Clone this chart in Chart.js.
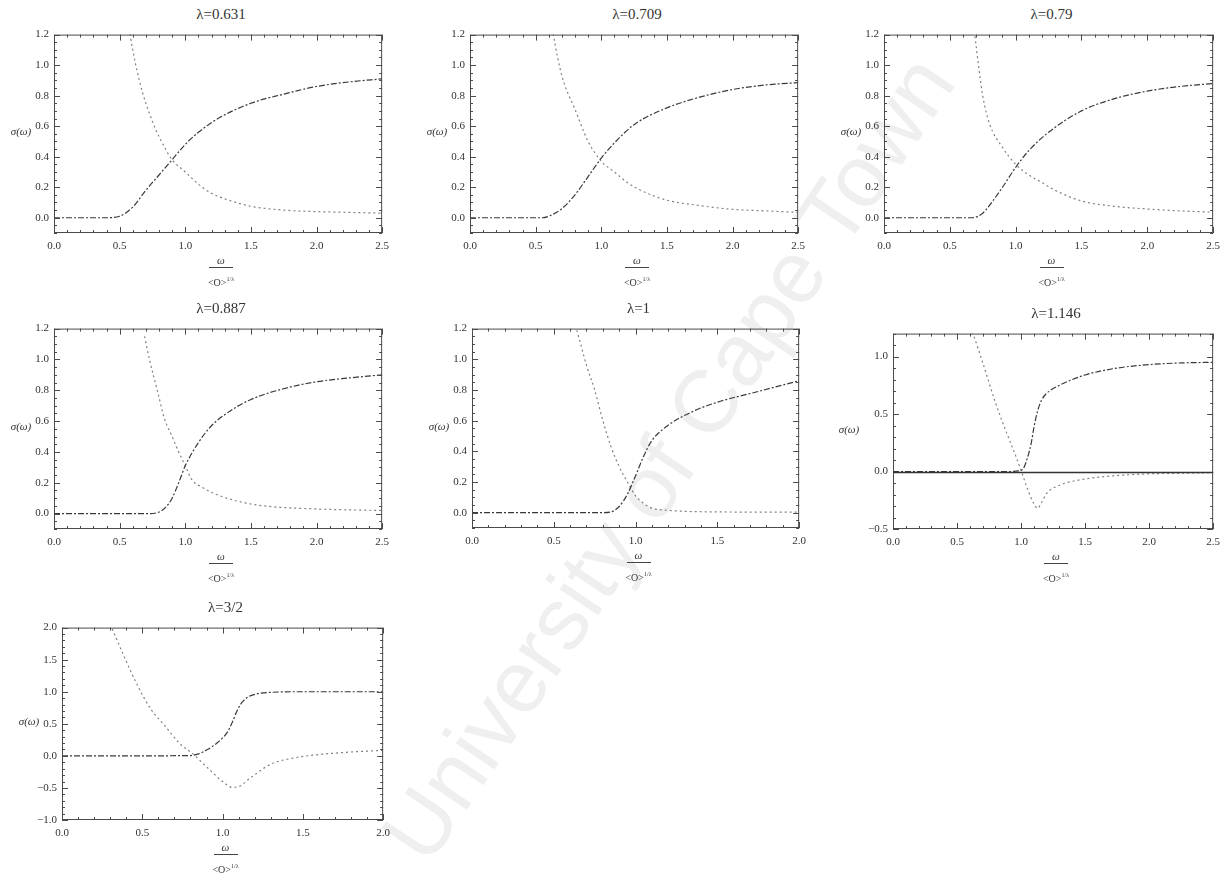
<!DOCTYPE html>
<html>
<head>
<meta charset="utf-8">
<script src="https://cdn.jsdelivr.net/npm/chart.js@4.4.1/dist/chart.umd.min.js"></script>
<style>
  body { margin: 0; background: #fff; width: 1228px; height: 888px; position: relative; overflow: hidden;
         font-family: 'Liberation Serif', serif; color: #333; }
  canvas { position: absolute; z-index: 1; }
  .title { position: absolute; font-size: 15px; transform: translate(-50%, -50%); white-space: nowrap; z-index: 2; }
  .ylab { position: absolute; font-size: 11px; font-style: italic; transform: translate(-50%, -50%); white-space: nowrap; z-index: 2; }
  .num { position: absolute; font-size: 11px; font-style: italic; transform: translate(-50%, -50%); z-index: 2; }
  .bar { position: absolute; height: 1px; width: 24px; background: #444; transform: translateX(-50%); z-index: 2; }
  .den { position: absolute; font-size: 10px; transform: translate(-50%, -50%); white-space: nowrap; z-index: 2; }
  .den sup { font-size: 6px; }
  .wm { position: absolute; left: 668px; top: 458px; font-family: 'Liberation Sans', sans-serif; font-size: 88px;
        color: #efefef; white-space: nowrap; transform: translate(-50%, -50%) rotate(-56deg); z-index: 0; }
</style>
</head>
<body>
<div class="wm">University of Cape Town</div>

<script>
// panel titles
const titles = ['λ=0.631', 'λ=0.709', 'λ=0.79', 'λ=0.887', 'λ=1', 'λ=1.146', 'λ=3/2'];

// tick labels
const xTicks25 = [0, 0.5, 1.0, 1.5, 2.0, 2.5];
const xTicks20 = [0, 0.5, 1.0, 1.5, 2.0];
const yTicks12 = [0, 0.2, 0.4, 0.6, 0.8, 1.0, 1.2];
const yTicksNeg05 = [-0.5, 0, 0.5, 1.0];
const yTicksNeg1 = [-1.0, -0.5, 0, 0.5, 1.0, 1.5, 2.0];

// λ=0.631
const omegaRe1 = [0, 0.2, 0.4, 0.5, 0.6, 0.7, 0.8, 0.9, 1.0, 1.1, 1.25, 1.5, 1.75, 2.0, 2.25, 2.5];
const re1 = [0, 0, 0, 0.01, 0.07, 0.18, 0.28, 0.38, 0.48, 0.56, 0.65, 0.75, 0.81, 0.86, 0.89, 0.91];
const omegaIm1 = [0.55, 0.58, 0.65, 0.75, 0.85, 0.9, 1.0, 1.1, 1.2, 1.35, 1.5, 1.75, 2.0, 2.25, 2.5];
const im1 = [1.4, 1.2, 0.9, 0.63, 0.45, 0.38, 0.3, 0.22, 0.16, 0.11, 0.075, 0.05, 0.04, 0.035, 0.03];

// λ=0.709
const omegaRe2 = [0, 0.2, 0.4, 0.55, 0.6, 0.7, 0.8, 0.9, 1.0, 1.1, 1.25, 1.5, 1.75, 2.0, 2.25, 2.5];
const re2 = [0, 0, 0, 0, 0.01, 0.06, 0.15, 0.27, 0.39, 0.49, 0.61, 0.72, 0.79, 0.84, 0.87, 0.885];
const omegaIm2 = [0.6, 0.635, 0.7, 0.8, 0.9, 1.0, 1.1, 1.2, 1.3, 1.5, 1.75, 2.0, 2.25, 2.5];
const im2 = [1.4, 1.2, 0.93, 0.71, 0.5, 0.37, 0.3, 0.23, 0.18, 0.115, 0.08, 0.055, 0.045, 0.035];

// λ=0.79
const omegaRe3 = [0, 0.2, 0.4, 0.6, 0.67, 0.75, 0.8, 0.9, 1.0, 1.1, 1.25, 1.5, 1.75, 2.0, 2.25, 2.5];
const re3 = [0, 0, 0, 0, 0, 0.03, 0.08, 0.2, 0.33, 0.44, 0.56, 0.7, 0.78, 0.83, 0.86, 0.88];
const omegaIm3 = [0.66, 0.69, 0.75, 0.8, 0.9, 1.0, 1.1, 1.2, 1.3, 1.5, 1.75, 2.0, 2.25, 2.5];
const im3 = [1.45, 1.2, 0.8, 0.62, 0.46, 0.35, 0.28, 0.23, 0.18, 0.11, 0.075, 0.057, 0.045, 0.036];

// λ=0.887
const omegaRe4 = [0, 0.2, 0.4, 0.6, 0.72, 0.8, 0.85, 0.9, 0.95, 1.0, 1.1, 1.2, 1.35, 1.5, 1.75, 2.0, 2.25, 2.5];
const re4 = [0, 0, 0, 0, 0, 0.01, 0.04, 0.1, 0.2, 0.31, 0.46, 0.57, 0.67, 0.74, 0.81, 0.855, 0.88, 0.9];
const omegaIm4 = [0.69, 0.73, 0.79, 0.84, 0.9, 0.95, 1.0, 1.05, 1.13, 1.25, 1.4, 1.6, 2.0, 2.5];
const im4 = [1.15, 0.99, 0.79, 0.62, 0.5, 0.4, 0.31, 0.22, 0.17, 0.12, 0.08, 0.05, 0.03, 0.02];

// λ=1
const omegaRe5 = [0, 0.2, 0.4, 0.6, 0.8, 0.85, 0.9, 0.95, 1.0, 1.05, 1.1, 1.2, 1.35, 1.5, 1.75, 2.0];
const re5 = [0, 0, 0, 0, 0, 0.005, 0.04, 0.12, 0.24, 0.37, 0.47, 0.57, 0.66, 0.72, 0.79, 0.86];
const omegaIm5 = [0.62, 0.64, 0.7, 0.75, 0.8, 0.85, 0.9, 0.95, 1.0, 1.05, 1.1, 1.2, 1.5, 2.0];
const im5 = [1.25, 1.19, 0.96, 0.8, 0.6, 0.43, 0.3, 0.2, 0.11, 0.06, 0.03, 0.015, 0.005, 0.003];

// λ=1.146
const omegaRe6 = [0, 0.5, 0.9, 0.98, 1.02, 1.05, 1.08, 1.1, 1.13, 1.16, 1.2, 1.3, 1.5, 1.75, 2.0, 2.25, 2.5];
const re6 = [0, 0, 0, 0.005, 0.03, 0.12, 0.25, 0.38, 0.53, 0.62, 0.68, 0.75, 0.84, 0.9, 0.93, 0.945, 0.95];
const omegaIm6 = [0.6, 0.63, 0.7, 0.8, 0.9, 0.95, 1.0, 1.05, 1.1, 1.13, 1.16, 1.2, 1.3, 1.5, 1.75, 2.0, 2.25, 2.5];
const im6 = [1.25, 1.18, 0.95, 0.6, 0.3, 0.16, 0.01, -0.15, -0.28, -0.32, -0.27, -0.19, -0.12, -0.065, -0.035, -0.02, -0.015, -0.01];

// λ=3/2
const omegaRe7 = [0, 0.4, 0.8, 0.85, 0.9, 0.95, 1.0, 1.03, 1.06, 1.09, 1.12, 1.16, 1.2, 1.3, 1.5, 2.0];
const re7 = [0, 0, 0.005, 0.03, 0.09, 0.17, 0.28, 0.37, 0.52, 0.7, 0.83, 0.92, 0.96, 0.99, 1.0, 1.0];
const omegaIm7 = [0.3, 0.33, 0.39, 0.46, 0.55, 0.64, 0.73, 0.82, 0.9, 1.0, 1.06, 1.1, 1.17, 1.3, 1.45, 1.6, 1.8, 2.0];
const im7 = [2.05, 1.88, 1.53, 1.15, 0.74, 0.47, 0.2, 0.02, -0.17, -0.4, -0.49, -0.48, -0.35, -0.13, -0.03, 0.02, 0.06, 0.085];

// layout of each frame: [left, top, right, bottom] in page pixels
const panels = [
  { box: [54, 29, 388, 233],  xMax: 2.5, yMin: -0.1, yMax: 1.2, xT: xTicks25, yT: yTicks12, yMinor: 0.05, w: omegaRe1, re: re1, wi: omegaIm1, im: im1 },
  { box: [470, 29, 804, 233], xMax: 2.5, yMin: -0.1, yMax: 1.2, xT: xTicks25, yT: yTicks12, yMinor: 0.05, w: omegaRe2, re: re2, wi: omegaIm2, im: im2 },
  { box: [884, 29, 1219, 233], xMax: 2.5, yMin: -0.1, yMax: 1.2, xT: xTicks25, yT: yTicks12, yMinor: 0.05, w: omegaRe3, re: re3, wi: omegaIm3, im: im3 },
  { box: [54, 323, 388, 529], xMax: 2.5, yMin: -0.1, yMax: 1.2, xT: xTicks25, yT: yTicks12, yMinor: 0.05, w: omegaRe4, re: re4, wi: omegaIm4, im: im4 },
  { box: [472, 323, 805, 528], xMax: 2.0, yMin: -0.1, yMax: 1.2, xT: xTicks20, yT: yTicks12, yMinor: 0.05, w: omegaRe5, re: re5, wi: omegaIm5, im: im5 },
  { box: [893, 328, 1219, 529], xMax: 2.5, yMin: -0.5, yMax: 1.2, xT: xTicks25, yT: yTicksNeg05, yMinor: 0.1, zero: true, w: omegaRe6, re: re6, wi: omegaIm6, im: im6 },
  { box: [62, 622, 389, 820], xMax: 2.0, yMin: -1.0, yMax: 2.0, xT: xTicks20, yT: yTicksNeg1, yMinor: 0.1, w: omegaRe7, re: re7, wi: omegaIm7, im: im7 }
];

const fmt = v => Number(v).toFixed(1).replace('-', '\u2212');

// frame with inward major/minor ticks on all four sides
const framePlugin = {
  id: 'frame',
  afterDatasetsDraw(chart, args, opts) {
    const { ctx, chartArea: a, scales: { x, y } } = chart;
    ctx.save();
    ctx.strokeStyle = '#4a4a4a';
    ctx.lineWidth = 1;
    ctx.strokeRect(a.left + 0.5, a.top + 0.5, a.width - 1, a.height - 1);
    ctx.beginPath();
    const nx = Math.round((x.max - x.min) / 0.1);
    for (let i = 0; i <= nx; i++) {
      const v = x.min + i * 0.1;
      const len = opts.xT.some(t => Math.abs(t - v) < 1e-6) ? 6 : 3;
      const px = Math.round(x.getPixelForValue(v)) + 0.5;
      ctx.moveTo(px, a.bottom); ctx.lineTo(px, a.bottom - len);
      ctx.moveTo(px, a.top); ctx.lineTo(px, a.top + len);
    }
    const ny = Math.round((y.max - y.min) / opts.yMinor);
    for (let i = 0; i <= ny; i++) {
      const v = y.min + i * opts.yMinor;
      const len = opts.yT.some(t => Math.abs(t - v) < 1e-6) ? 6 : 3;
      const py = Math.round(y.getPixelForValue(v)) + 0.5;
      ctx.moveTo(a.left, py); ctx.lineTo(a.left + len, py);
      ctx.moveTo(a.right, py); ctx.lineTo(a.right - len, py);
    }
    ctx.stroke();
    if (opts.zero) {
      const py = Math.round(y.getPixelForValue(0)) + 0.5;
      ctx.beginPath();
      ctx.strokeStyle = '#333';
      ctx.lineWidth = 1.3;
      ctx.moveTo(a.left, py); ctx.lineTo(a.right, py);
      ctx.stroke();
    }
    ctx.restore();
  }
};

const PAD_L = 44, PAD_T = 6, PAD_R = 8, PAD_B = 24;

function addText(cls, html, x, y) {
  const d = document.createElement('div');
  d.className = cls;
  d.innerHTML = html;
  d.style.left = x + 'px';
  d.style.top = y + 'px';
  document.body.appendChild(d);
}

panels.forEach((p, k) => {
  const [l, t, r, b] = p.box;
  const cv = document.createElement('canvas');
  const cw = (r - l) + PAD_L + PAD_R;
  const ch = (b - t) + PAD_T + PAD_B;
  cv.width = cw; cv.height = ch;
  cv.style.left = (l - PAD_L) + 'px';
  cv.style.top = (t - PAD_T) + 'px';
  cv.style.width = cw + 'px';
  cv.style.height = ch + 'px';
  document.body.appendChild(cv);

  new Chart(cv, {
    type: 'line',
    data: {
      datasets: [
        {
          data: p.w.map((v, i) => ({ x: v, y: p.re[i] })),
          borderColor: '#3a3a3a',
          borderWidth: 1.2,
          borderDash: [6, 2, 2, 2],
          pointRadius: 0,
          fill: false,
          cubicInterpolationMode: 'monotone'
        },
        {
          data: p.wi.map((v, i) => ({ x: v, y: p.im[i] })),
          borderColor: '#808080',
          borderWidth: 1.2,
          borderDash: [2, 3],
          pointRadius: 0,
          fill: false,
          cubicInterpolationMode: 'monotone'
        }
      ]
    },
    options: {
      responsive: false,
      animation: false,
      devicePixelRatio: 1,
      layout: { padding: { left: 0, top: PAD_T, right: PAD_R, bottom: 0 } },
      plugins: {
        legend: { display: false },
        tooltip: { enabled: false },
        frame: { xT: p.xT, yT: p.yT, yMinor: p.yMinor, zero: !!p.zero }
      },
      scales: {
        x: {
          type: 'linear',
          min: 0, max: p.xMax,
          grid: { display: false, drawTicks: false },
          border: { display: false },
          afterBuildTicks: s => { s.ticks = p.xT.map(v => ({ value: v })); },
          afterFit: s => { s.height = PAD_B; },
          ticks: {
            autoSkip: false, maxRotation: 0, padding: 7, color: '#333',
            font: { family: 'Liberation Serif', size: 11 },
            callback: fmt
          }
        },
        y: {
          min: p.yMin, max: p.yMax,
          grid: { display: false, drawTicks: false },
          border: { display: false },
          afterBuildTicks: s => { s.ticks = p.yT.map(v => ({ value: v })); },
          afterFit: s => { s.width = PAD_L; },
          ticks: {
            autoSkip: false, padding: 5, color: '#333',
            font: { family: 'Liberation Serif', size: 11 },
            callback: fmt
          }
        }
      }
    },
    plugins: [framePlugin]
  });

  const cx = (l + r) / 2;
  addText('title', titles[k], cx, t - 15);
  addText('ylab', 'σ(ω)', l - (p.zero ? 44 : 33), (t + b) / 2);
  addText('num', 'ω', cx, b + 27);
  const bar = document.createElement('div');
  bar.className = 'bar';
  bar.style.left = cx + 'px';
  bar.style.top = (b + 34) + 'px';
  document.body.appendChild(bar);
  addText('den', '&lt;O&gt;<sup>1/λ</sup>', cx, b + 49);
});
</script>
</body>
</html>
